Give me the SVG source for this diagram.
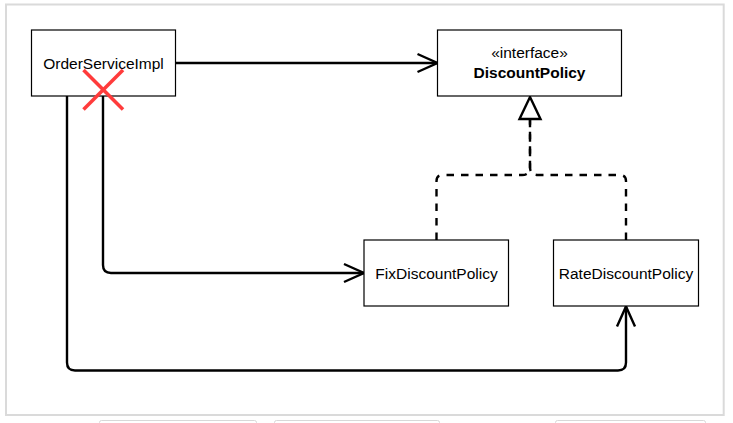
<svg xmlns="http://www.w3.org/2000/svg" width="733" height="423" viewBox="0 0 733 423">
<style>
.box{fill:#ffffff;stroke:#000000;stroke-width:1.2}
.lbl{font-family:"Liberation Sans",Arial,Helvetica,sans-serif;font-size:15.5px;fill:#000000;text-anchor:middle}
.bold{font-weight:bold}
.edge{fill:none;stroke:#000000;stroke-width:2.4;stroke-linejoin:round}
.dash{fill:none;stroke:#000000;stroke-width:2.4;stroke-dasharray:7.5 7}
.frame{fill:none;stroke:#dadada;stroke-width:2}
.tab{fill:#ffffff;stroke:#d8d8d8;stroke-width:1}
</style>
<defs>
<marker id="open" markerUnits="userSpaceOnUse" markerWidth="26" markerHeight="24" viewBox="-22 -12 26 24" refX="0" refY="0" orient="auto">
<path d="M -20 -9 L 0 0 L -20 9" fill="none" stroke="#000000" stroke-width="2.4" stroke-linejoin="miter"/>
</marker>
</defs>
<rect width="733" height="423" fill="#ffffff"/>
<rect class="frame" x="6" y="4.5" width="717.7" height="410.5"/>
<g id="tabs">
<rect class="tab" x="99.5" y="420.5" width="157" height="12" rx="2"/>
<rect class="tab" x="274.5" y="420.5" width="165" height="12" rx="2"/>
<rect class="tab" x="555.5" y="420.5" width="150" height="12" rx="2"/>
</g>
<g id="connectors">
<path class="edge" d="M 175.5 63 L 437.5 63" marker-end="url(#open)"/>
<path class="edge" d="M 103 96 L 103 265 Q 103 273 111 273 L 364 273" marker-end="url(#open)"/>
<path class="edge" d="M 67 96 L 67 362.5 Q 67 370.5 75 370.5 L 618 370.5 Q 626 370.5 626 362.5 L 626 306.5" marker-end="url(#open)"/>
<path class="dash" d="M 436.5 240 L 436.5 181 Q 436.5 175 442.5 175 L 522 175 Q 530 175 530 167 L 530 119"/>
<path class="dash" d="M 626 240 L 626 181 Q 626 175 620 175 L 538 175 Q 530 175 530 167 L 530 119"/>
<polygon points="530,97 540.5,119 519.5,119" fill="#ffffff" stroke="#000000" stroke-width="2.4" stroke-linejoin="miter"/>
</g>
<g id="OrderServiceImpl">
<rect class="box" x="31.5" y="30" width="144" height="66"/>
<text class="lbl" x="103.5" y="68.5">OrderServiceImpl</text>
</g>
<g id="DiscountPolicy">
<rect class="box" x="437.5" y="30" width="184" height="66"/>
<text class="lbl" x="529.5" y="58">«interface»</text>
<text class="lbl bold" x="529.5" y="78">DiscountPolicy</text>
</g>
<g id="FixDiscountPolicy">
<rect class="box" x="364" y="240" width="144.5" height="66"/>
<text class="lbl" x="436.5" y="279">FixDiscountPolicy</text>
</g>
<g id="RateDiscountPolicy">
<rect class="box" x="553.5" y="240" width="145" height="66"/>
<text class="lbl" x="626" y="279">RateDiscountPolicy</text>
</g>
<g id="cross">
<line x1="83.5" y1="70" x2="123" y2="109.5" stroke="#ff3b3b" stroke-width="3.5"/>
<line x1="123" y1="70" x2="83.5" y2="109.5" stroke="#ff3b3b" stroke-width="3.5"/>
</g>
</svg>
